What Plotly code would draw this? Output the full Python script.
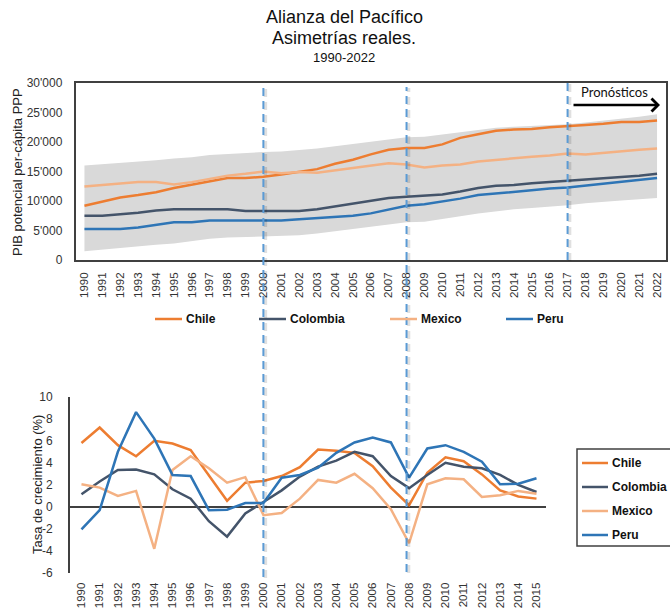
import plotly.graph_objects as go

# ---------------- data ----------------
years_top = ["1990", "1991", "1992", "1993", "1994", "1995", "1996", "1997", "1998", "1999",
             "2000", "2001", "2002", "2003", "2004", "2005", "2006", "2007", "2008", "2009",
             "2010", "2011", "2012", "2013", "2014", "2015", "2016", "2017", "2018", "2019",
             "2020", "2021", "2022"]
years_bot = years_top[:26]  # 1990-2015

pib_chile = [9200, 9900, 10600, 11000, 11500, 12200, 12800, 13400, 13900, 13900,
             14100, 14500, 15000, 15400, 16300, 17000, 17900, 18700, 19000, 19000,
             19600, 20700, 21300, 21900, 22100, 22200, 22500, 22750, 22900, 23100,
             23400, 23400, 23650]
pib_colombia = [7500, 7500, 7750, 8000, 8400, 8600, 8600, 8600, 8600, 8300,
                8300, 8300, 8300, 8600, 9100, 9600, 10000, 10500, 10700, 10900,
                11100, 11600, 12200, 12600, 12700, 13000, 13200, 13400, 13600, 13900,
                14100, 14300, 14600]
pib_mexico = [12450, 12700, 13000, 13200, 13200, 12800, 13200, 13700, 14300, 14600,
              15000, 14700, 14900, 14800, 15200, 15600, 16100, 16400, 16200, 15700,
              16000, 16200, 16700, 17000, 17300, 17500, 17700, 18050, 17900, 18200,
              18500, 18700, 18900]
pib_peru = [5260, 5260, 5260, 5500, 5900, 6400, 6400, 6700, 6700, 6700,
            6700, 6700, 6900, 7100, 7250, 7500, 7900, 8600, 9200, 9450,
            9900, 10400, 11000, 11300, 11500, 11900, 12100, 12300, 12600, 13000,
            13200, 13500, 13900]
band_upper = [16000, 16200, 16400, 16600, 16900, 17200, 17400, 17800, 18000, 18100,
              18300, 18400, 18600, 18900, 19300, 19700, 20100, 20500, 20800, 20900,
              21300, 21700, 22100, 22400, 22600, 22700, 22900, 23000, 23300, 23600,
              23900, 24300, 24700]
band_lower = [1500, 1800, 2100, 2400, 2600, 2800, 3200, 3600, 3800, 3900,
              3900, 4000, 4200, 4500, 4900, 5300, 5700, 6100, 6400, 6500,
              6900, 7400, 7900, 8300, 8600, 8800, 9000, 9300, 9600, 9900,
              10100, 10300, 10500]

g_chile = [5.8, 7.2, 5.6, 4.6, 6.0, 5.75, 5.15, 2.9, 0.55, 2.2, 2.35, 2.8, 3.6,
           5.2, 5.1, 4.9, 3.7, 1.75, 0.15, 3.1, 4.5, 4.15, 2.95, 1.5, 0.95, 0.75]
g_colombia = [1.15, 2.3, 3.35, 3.4, 2.95, 1.6, 0.75, -1.3, -2.7, -0.6, 0.45, 1.5, 2.75,
              3.65, 4.2, 5.0, 4.6, 2.8, 1.7, 2.9, 4.0, 3.65, 3.5, 2.9, 2.0, 1.35]
g_mexico = [2.05, 1.75, 1.0, 1.45, -3.8, 3.35, 4.6, 3.5, 2.2, 2.7, -0.75, -0.55, 0.75,
            2.45, 2.2, 3.0, 1.7, -0.2, -3.3, 2.05, 2.6, 2.5, 0.9, 1.05, 1.45, 1.2]
g_peru = [-2.05, -0.3, 5.0, 8.6, 6.2, 2.9, 2.8, -0.3, -0.25, 0.35, 0.35, 2.65, 2.9,
          3.55, 4.9, 5.85, 6.3, 5.85, 2.65, 5.3, 5.6, 5.0, 4.1, 2.05, 2.1, 2.6]

countries = ["Chile", "Colombia", "Mexico", "Peru"]
top_tickvals = [0, 5000, 10000, 15000, 20000, 25000, 30000]
top_ticktext = ["0", "5'000", "10'000", "15'000", "20'000", "25'000", "30'000"]
bot_tickvals = [-6, -4, -2, 0, 2, 4, 6, 8, 10]
bot_ticktext = ["-6", "-4", "-2", "0", "2", "4", "6", "8", "10"]
dash_years = ["2000", "2008"]
forecast_year = "2017"

# ---------------- style ----------------
W, H = 670, 609
COLORS = {"Chile": "#ed7d31", "Colombia": "#44546a", "Mexico": "#f4b183", "Peru": "#2e75b6"}
DASH_C = "#5b9bd5"
AX_C = "#404040"
FONT = "Liberation Sans, Arial, sans-serif"


def px(x):
    return x / W


def py(y):
    return 1 - y / H


fig = go.Figure()

# band
fig.add_trace(go.Scatter(x=years_top, y=band_lower, mode="lines", line=dict(width=0),
                         showlegend=False, hoverinfo="skip", xaxis="x", yaxis="y"))
fig.add_trace(go.Scatter(x=years_top, y=band_upper, mode="lines", line=dict(width=0),
                         fill="tonexty", fillcolor="#d9d9d9", showlegend=False,
                         hoverinfo="skip", xaxis="x", yaxis="y"))

top_series = {"Chile": pib_chile, "Colombia": pib_colombia, "Mexico": pib_mexico, "Peru": pib_peru}
bot_series = {"Chile": g_chile, "Colombia": g_colombia, "Mexico": g_mexico, "Peru": g_peru}
for c in countries:
    fig.add_trace(go.Scatter(x=years_top, y=top_series[c], mode="lines", name=c,
                             line=dict(color=COLORS[c], width=2.5), showlegend=False,
                             xaxis="x", yaxis="y"))
for c in countries:
    fig.add_trace(go.Scatter(x=years_bot, y=bot_series[c], mode="lines", name=c,
                             line=dict(color=COLORS[c], width=2.5), showlegend=False,
                             xaxis="x2", yaxis="y2"))

shapes = []


def vline(idx, y_top, y_bot):
    # soft grey shadow to the right, then the dashed blue line
    shapes.append(dict(type="line", xref="x", yref="paper", xsizemode="pixel", xanchor=idx,
                       x0=2, x1=2, y0=py(y_bot + 1), y1=py(y_top + 1),
                       line=dict(color="rgba(0,0,0,0.12)", width=3.5, dash="8px,5px")))
    shapes.append(dict(type="line", xref="x", yref="paper", x0=idx, x1=idx,
                       y0=py(y_bot), y1=py(y_top),
                       line=dict(color=DASH_C, width=2, dash="8px,5px")))


spans = {"2000": (87, 577), "2008": (87, 572)}
for yr in dash_years:
    vline(years_top.index(yr), *spans[yr])
vline(years_top.index(forecast_year), 82, 260)

annotations = []
# titles
for text, yc, size in [("Alianza del Pacífico", 17, 18), ("Asimetrías reales.", 38, 18),
                       ("1990-2022", 57, 13)]:
    annotations.append(dict(text=text, x=px(344), y=py(yc), xref="paper", yref="paper",
                            xanchor="center", yanchor="middle", showarrow=False,
                            font=dict(family=FONT, size=size, color="#111111")))
# axis titles
annotations.append(dict(text="PIB potencial per-cápita PPP", x=px(17), y=py(172), xref="paper",
                        yref="paper", textangle=-90, showarrow=False, xanchor="center",
                        yanchor="middle", font=dict(family=FONT, size=13, color="#222222")))
annotations.append(dict(text="Tasa de crecimiento (%)", x=px(37), y=py(485), xref="paper",
                        yref="paper", textangle=-90, showarrow=False, xanchor="center",
                        yanchor="middle", font=dict(family=FONT, size=13, color="#222222")))
# Pronósticos
annotations.append(dict(text="Pronósticos", x=px(614), y=py(92), xref="paper", yref="paper",
                        showarrow=False, xanchor="center", yanchor="middle",
                        font=dict(family="Lato, Open Sans, sans-serif", size=13, color="#111111")))
annotations.append(dict(text="", x=px(660), y=py(105), xref="paper", yref="paper",
                        ax=-88, ay=0, axref="pixel", ayref="pixel", showarrow=True,
                        arrowhead=4, arrowsize=1, arrowwidth=2.5, arrowcolor="#000000"))

# top legend (manual)
top_leg = {"Chile": 155, "Colombia": 259, "Mexico": 390, "Peru": 506}
for c in countries:
    x0 = top_leg[c]
    shapes.append(dict(type="line", xref="paper", yref="paper", x0=px(x0), x1=px(x0 + 27),
                       y0=py(319), y1=py(319), line=dict(color=COLORS[c], width=2.5)))
    annotations.append(dict(text="<b>" + c + "</b>", x=px(x0 + 29), y=py(319), xref="paper",
                            yref="paper", xanchor="left", yanchor="middle", showarrow=False,
                            font=dict(family=FONT, size=12, color="#111111")))
# bottom legend (manual, boxed)
shapes.append(dict(type="rect", xref="paper", yref="paper", x0=px(577), x1=px(680),
                   y0=py(546), y1=py(449), line=dict(color=AX_C, width=1.5)))
bot_leg_y = {"Chile": 463, "Colombia": 487, "Mexico": 511, "Peru": 535}
for c in countries:
    yy = bot_leg_y[c]
    shapes.append(dict(type="line", xref="paper", yref="paper", x0=px(582), x1=px(608),
                       y0=py(yy), y1=py(yy), line=dict(color=COLORS[c], width=2.5)))
    annotations.append(dict(text="<b>" + c + "</b>", x=px(610), y=py(yy), xref="paper",
                            yref="paper", xanchor="left", yanchor="middle", showarrow=False,
                            font=dict(family=FONT, size=12, color="#111111")))

tickfont = dict(family=FONT, size=11.5, color="#333333")
fig.update_layout(
    width=W, height=H,
    margin=dict(l=0, r=0, t=0, b=0),
    paper_bgcolor="white", plot_bgcolor="white",
    showlegend=False,
    font=dict(family=FONT),
    xaxis=dict(domain=[px(75.5), px(666)], type="category", range=[-0.5, 32.5],
               showline=True, mirror=True, linecolor=AX_C, linewidth=1.5,
               ticks="outside", ticklen=6, tickcolor="rgba(0,0,0,0)", tickangle=-90,
               tickfont=tickfont, showgrid=False, anchor="y", automargin=False),
    yaxis=dict(domain=[py(260), py(83)], range=[0, 30000], tickvals=top_tickvals,
               ticktext=top_ticktext, showline=True, mirror=True, linecolor=AX_C,
               linewidth=1.5, ticks="outside", ticklen=9, tickcolor="rgba(0,0,0,0)",
               tickfont=dict(family=FONT, size=12, color="#333333"), showgrid=False,
               zeroline=False, anchor="x", automargin=False),
    xaxis2=dict(domain=[px(70), px(545.6)], type="category", range=[-0.63, 25.5],
                showline=False, showgrid=False, ticks="outside", ticklen=4,
                tickcolor="rgba(0,0,0,0)", tickangle=-90, tickfont=tickfont,
                anchor="y2", automargin=False),
    yaxis2=dict(domain=[py(573), py(396.7)], range=[-6, 10], tickvals=bot_tickvals,
                ticktext=bot_ticktext,
                showline=True, linecolor=AX_C, linewidth=2, zeroline=True,
                zerolinecolor=AX_C, zerolinewidth=2, showgrid=False, ticks="outside",
                ticklen=13, tickcolor="rgba(0,0,0,0)",
                tickfont=dict(family=FONT, size=12, color="#333333"), anchor="x2",
                automargin=False),
    shapes=shapes,
    annotations=annotations,
)

fig.write_html("out.html", config={"displayModeBar": False},
               post_script="document.body.style.margin='0px';")
